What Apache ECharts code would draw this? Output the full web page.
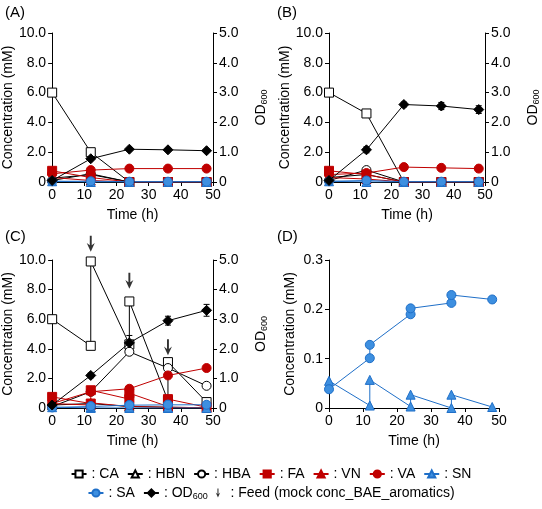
<!DOCTYPE html>
<html><head><meta charset="utf-8">
<script src="https://cdn.jsdelivr.net/npm/echarts@6/dist/echarts.min.js"></script>
<style>html,body{margin:0;background:#fff}#c{width:542px;height:509px}</style>
</head><body><div id="c"></div>
<script>
// ---- data ----
const tA = [0,12,24,36,48];
const A_CA=[6.0,2.0,0,0,0], A_HBN=[0.25,0.5,0,0,0], A_HBA=[0.1,0.55,0,0,0], A_FA=[0.75,0.3,0,0,0], A_VN=[0.3,0.1,0,0,0], A_VA=[0.55,0.8,0.9,0.9,0.9], A_SN=[0.05,0.0,0,0,0], A_SA=[0.05,0.05,0.02,0.02,0.02], A_OD=[0.05,0.78,1.1,1.08,1.05];
const B_CA=[6.0,4.6,0,0,0], B_HBN=[0.3,0.5,0,0,0], B_HBA=[0.1,0.8,0,0,0], B_FA=[0.75,0.5,0,0,0], B_VN=[0.3,0.2,0,0,0], B_VA=[0.5,0.6,1.0,0.95,0.9], B_SN=[0.05,0,0,0,0], B_SA=[0.05,0.1,0.02,0.02,0.02], B_OD=[0.05,1.08,2.6,2.55,2.43], B_ODerr=[0.02,0.1,0.08,0.12,0.13];
const tC = [0,12,12,24,24,36,36,48];
const C_CA=[6.0,4.2,9.9,4.3,7.2,0.5,3.1,0.4];
const C_FA=[0.75,0.3,1.2,0.6,1.0,0.1,0.6,0.05];
const C_VN=[0.3,0.2,0.35,0.1,0.2,0.05,0.1,0.02];
const tC5=[0,12,24,36,48];
const C_HBN=[0.2,0.3,0.1,0.05,0.02], C_HBA=[0.1,1.1,3.8,2.7,1.5], C_VA=[0.3,1.1,1.3,2.2,2.7], C_OD=[0.1,1.1,2.2,2.95,3.3], C_ODerr=[0.02,0.08,0.25,0.15,0.2];
const D_SA=[0.038,0.101,0.128,0.19,0.202,0.213,0.229,0.22];
const D_SN=[0.055,0.005,0.057,0.003,0.027,0,0.027,0.002];
const feedT=[12,24,36], feedY=[11.1,8.6,4.1];

const pair=(t,v)=>t.map((x,i)=>[x,v[i]]);
const RED='#c00000', BLUE='#3d8fe0', BLUEE='#1f6fc8';
const F='Liberation Sans, Arial, sans-serif';
const arrowPath='path://M3.8,0 L6.2,0 L6.2,12 L10,9 L5,20 L0,9 L3.8,12 Z';

function ser(name,data,gi,sym,fill,edge,line,opts){
  return Object.assign({name,type:'line',xAxisIndex:gi,yAxisIndex:gi*2,data,symbol:sym,symbolSize:sym==='diamond'?10:9,
    itemStyle:{color:fill,borderColor:edge,borderWidth:1},lineStyle:{color:line,width:1},z:3,animation:false},opts||{});
}
function panel(gi,d,err){
  const s=[
    ser('CA',d.CA,gi,'rect','#fff','#000','#000'),
    ser('HBN',d.HBN,gi,'triangle','#fff','#000','#000'),
    ser('HBA',d.HBA,gi,'circle','#fff','#000','#000'),
    ser('FA',d.FA,gi,'rect',RED,RED,RED),
    ser('VN',d.VN,gi,'triangle',RED,RED,RED),
    ser('VA',d.VA,gi,'circle',RED,RED,RED),
    ser('SN',d.SN,gi,'triangle',BLUE,BLUEE,BLUEE),
    ser('SA',d.SA,gi,'circle',BLUE,BLUEE,BLUEE),
    ser('OD600',d.OD,gi,'diamond','#000','#000','#000',{yAxisIndex:gi*2+1,z:4})
  ];
  if(err) s.push({type:'custom',xAxisIndex:gi,yAxisIndex:gi*2+1,data:err,z:2,animation:false,
    renderItem:(p,api)=>{const x=api.value(0),y=api.value(1),e=api.value(2);
      const a=api.coord([x,y+e]),b=api.coord([x,y-e]);
      return {type:'group',children:[
        {type:'line',shape:{x1:a[0],y1:a[1],x2:b[0],y2:b[1]},style:{stroke:'#000',lineWidth:1}},
        {type:'line',shape:{x1:a[0]-3,y1:a[1],x2:a[0]+3,y2:a[1]},style:{stroke:'#000',lineWidth:1}},
        {type:'line',shape:{x1:b[0]-3,y1:b[1],x2:b[0]+3,y2:b[1]},style:{stroke:'#000',lineWidth:1}}]};}});
  return s;
}
let series=[];
series=series.concat(panel(0,{CA:pair(tA,A_CA),HBN:pair(tA,A_HBN),HBA:pair(tA,A_HBA),FA:pair(tA,A_FA),VN:pair(tA,A_VN),VA:pair(tA,A_VA),SN:pair(tA,A_SN),SA:pair(tA,A_SA),OD:pair(tA,A_OD)}));
series=series.concat(panel(1,{CA:pair(tA,B_CA),HBN:pair(tA,B_HBN),HBA:pair(tA,B_HBA),FA:pair(tA,B_FA),VN:pair(tA,B_VN),VA:pair(tA,B_VA),SN:pair(tA,B_SN),SA:pair(tA,B_SA),OD:pair(tA,B_OD)},tA.map((x,i)=>[x,B_OD[i],B_ODerr[i]])));
series=series.concat(panel(2,{CA:pair(tC,C_CA),HBN:pair(tC5,C_HBN),HBA:pair(tC5,C_HBA),FA:pair(tC,C_FA),VN:pair(tC,C_VN),VA:pair(tC5,C_VA),SN:pair(tC,D_SN),SA:pair(tC,D_SA),OD:pair(tC5,C_OD)},tC5.map((x,i)=>[x,C_OD[i],C_ODerr[i]])));
series.push({name:'Feed (mock conc_BAE_aromatics)',type:'scatter',xAxisIndex:2,yAxisIndex:4,data:pair(feedT,feedY),symbol:arrowPath,symbolSize:[8,16],itemStyle:{color:'#000'},clip:false,animation:false});
series.push(ser('SN',pair(tC,D_SN),3,'triangle',BLUE,BLUEE,BLUEE,{yAxisIndex:6}));
series.push(ser('SA',pair(tC,D_SA),3,'circle',BLUE,BLUEE,BLUEE,{yAxisIndex:6}));

const grids=[{left:52,top:33,width:161,height:149},{left:329,top:33,width:162,height:149},{left:52,top:260,width:161,height:148},{left:329,top:260,width:170,height:148}];
const axLine={show:true,lineStyle:{color:'#000',width:1}};
const lab={color:'#000',fontFamily:F,fontSize:14};
const xAxis=grids.map((g,i)=>({type:'value',gridIndex:i,min:0,max:50,interval:10,axisLine:axLine,axisTick:{show:true,length:4,lineStyle:{color:'#000'}},axisLabel:Object.assign({margin:6},lab),splitLine:{show:false},
  name:'Time (h)',nameLocation:'middle',nameGap:26,nameTextStyle:lab}));
const yAxis=[];
const f1=v=>v===0?'0':v.toFixed(1);
for(let i=0;i<4;i++){
  if(i<3){
    yAxis.push({type:'value',gridIndex:i,min:0,max:10,interval:2,axisLine:axLine,axisTick:{show:true,length:4,lineStyle:{color:'#000'}},axisLabel:Object.assign({formatter:f1,margin:6},lab),splitLine:{show:false},
      name:'Concentration (mM)',nameLocation:'middle',nameGap:36,nameTextStyle:lab});
    yAxis.push({type:'value',gridIndex:i,position:'right',min:0,max:5,interval:1,axisLine:axLine,axisTick:{show:true,length:4,lineStyle:{color:'#000'}},axisLabel:Object.assign({formatter:f1,margin:6},lab),splitLine:{show:false},
      name:'{a|OD}{s|600}',nameLocation:'middle',nameGap:40,nameRotate:90,nameTextStyle:{rich:{a:lab,s:{color:'#000',fontFamily:F,fontSize:9,verticalAlign:'bottom',padding:[7,0,0,0]}}}});
  } else {
    yAxis.push({type:'value',gridIndex:3,min:0,max:0.3,interval:0.1,axisLine:axLine,axisTick:{show:true,length:4,lineStyle:{color:'#000'}},axisLabel:Object.assign({formatter:f1,margin:6},lab),splitLine:{show:false},
      name:'Concentration (mM)',nameLocation:'middle',nameGap:32,nameTextStyle:lab});
  }
}
const lrich={a:{color:'#000',fontFamily:F,fontSize:14},s:{color:'#000',fontFamily:F,fontSize:9,verticalAlign:'bottom',padding:[7,0,0,0]}};
const legFmt=n=>n==='OD600'?'{a|: OD}{s|600}':'{a|: '+n+'}';
const leg=(data,top)=>({data,top,left:'center',itemGap:8,itemWidth:15,itemHeight:9,formatter:legFmt,textStyle:{rich:lrich,fontFamily:F,fontSize:14,color:'#000'},selectedMode:false});
const option={
  backgroundColor:'#fff',animation:false,grid:grids,xAxis,yAxis,series,
  legend:[leg(['CA','HBN','HBA','FA','VN','VA','SN'],462),leg(['SA','OD600','Feed (mock conc_BAE_aromatics)'],481)],
  title:['(A)','(B)','(C)','(D)'].map((t,i)=>({text:t,left:[0,272,0,272][i],top:[0,0,224,224][i],textStyle:{fontFamily:F,fontSize:15,fontWeight:'normal',color:'#000'}}))
};
echarts.init(document.getElementById('c')).setOption(option);
</script></body></html>
